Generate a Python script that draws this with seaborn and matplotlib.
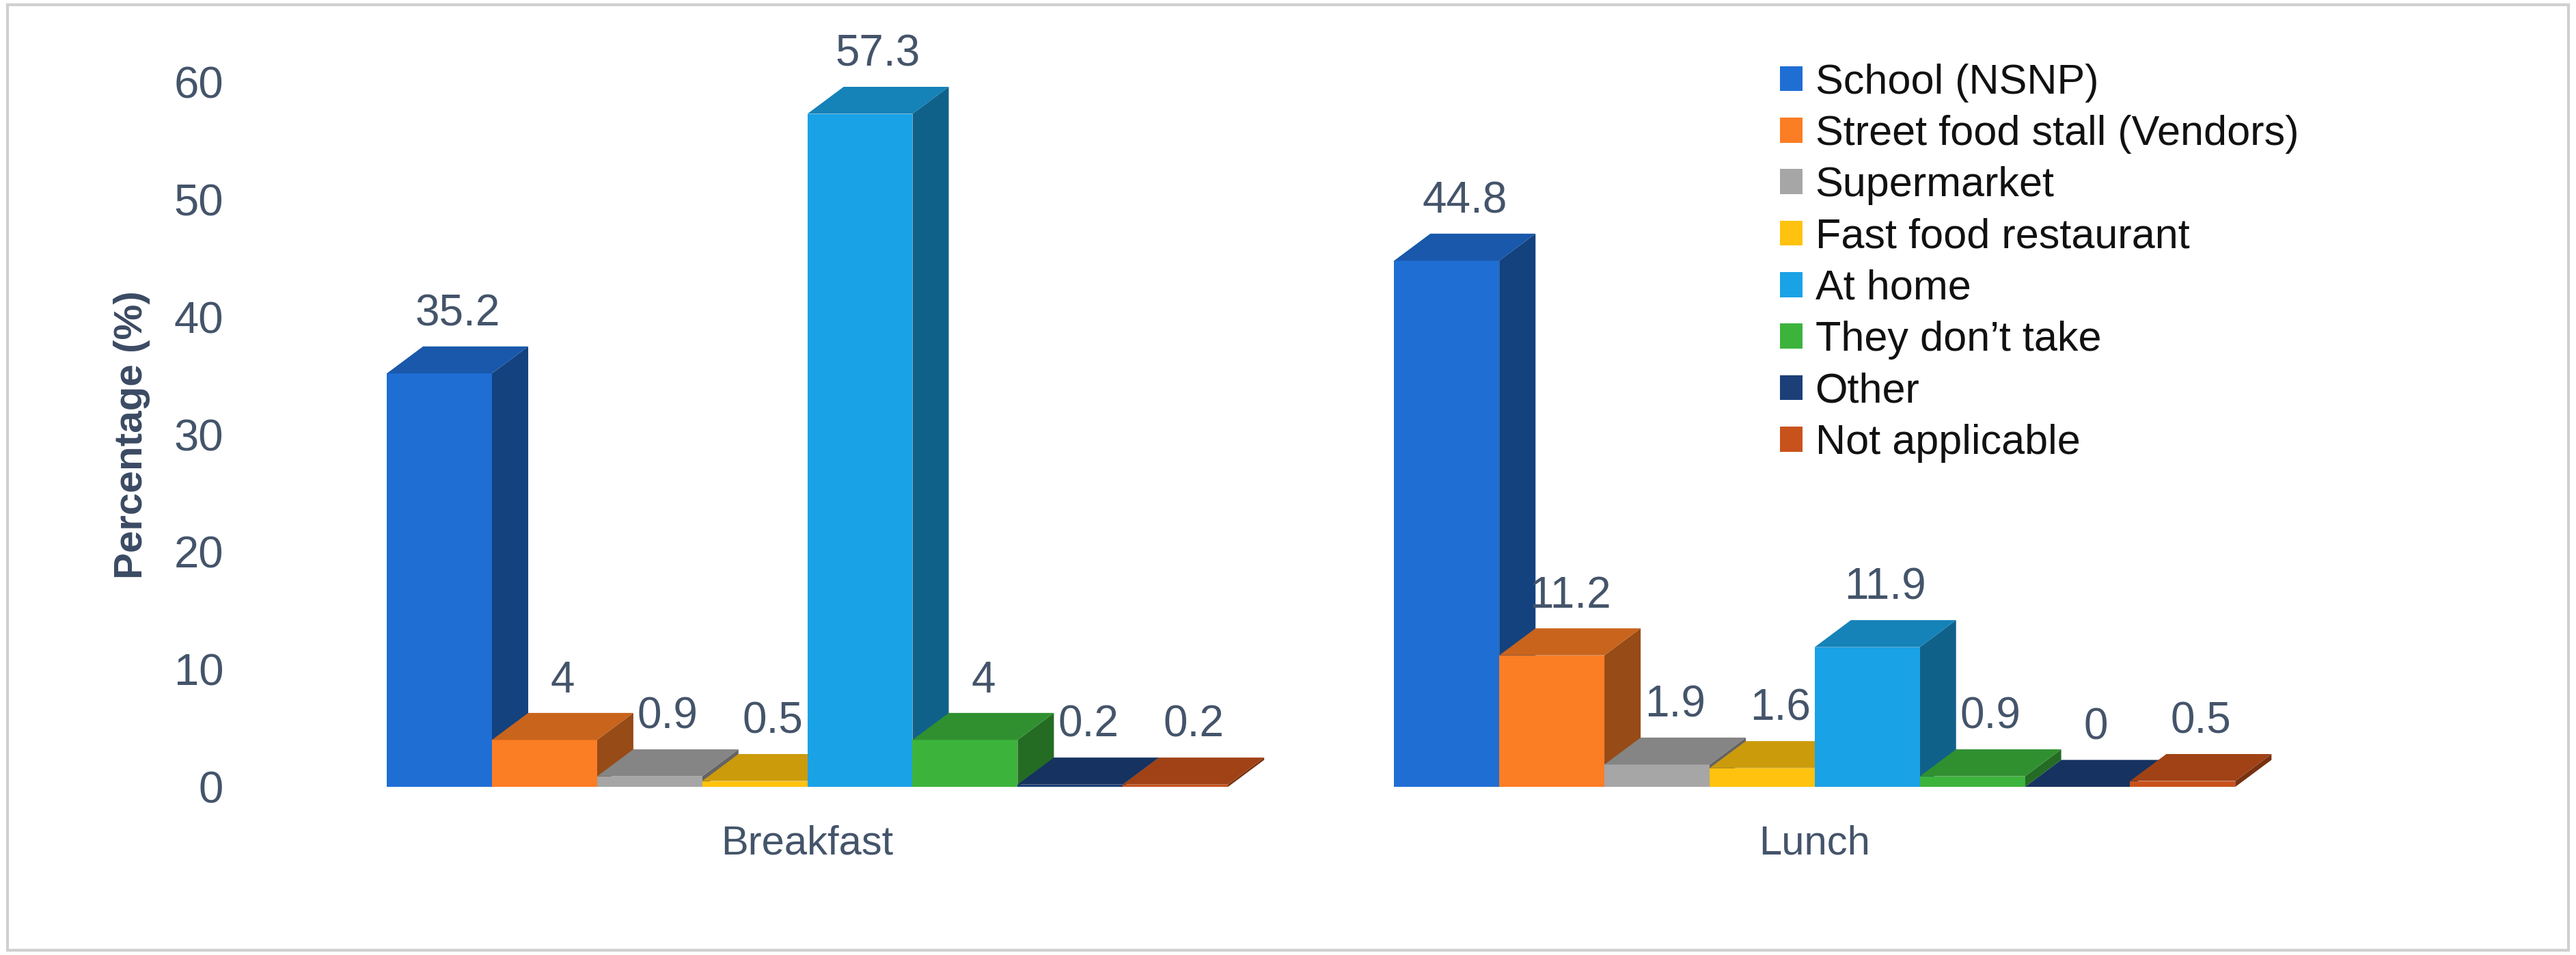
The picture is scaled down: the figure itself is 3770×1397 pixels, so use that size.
import matplotlib
matplotlib.use("Agg")
import matplotlib.pyplot as plt
import seaborn as sns
import pandas as pd
import matplotlib.colors as mcolors
from matplotlib.patches import Polygon, Rectangle

meals = ["Breakfast", "Lunch"]
places = ["School (NSNP)", "Street food stall (Vendors)", "Supermarket", "Fast food restaurant",
          "At home", "They don\u2019t take", "Other", "Not applicable"]
breakfast = [35.2, 4, 0.9, 0.5, 57.3, 4, 0.2, 0.2]
lunch = [44.8, 11.2, 1.9, 1.6, 11.9, 0.9, 0, 0.5]
labels_b = ["35.2", "4", "0.9", "0.5", "57.3", "4", "0.2", "0.2"]
labels_l = ["44.8", "11.2", "1.9", "1.6", "11.9", "0.9", "0", "0.5"]
colors = ["#1f6ed4", "#fb7d24", "#a6a6a6", "#ffc20e", "#1aa2e6", "#3cb43c", "#1c3f78", "#c8521c"]

df = pd.DataFrame({
    "meal": [m for m in meals for _ in places],
    "place": places * 2,
    "value": breakfast + lunch,
})

sns.set_theme(style="white")
plt.rcParams['font.family'] = ['Liberation Sans', 'DejaVu Sans']
fig = plt.figure(figsize=(37.7, 13.97), dpi=100)
ax = fig.add_axes([0.096, 0.176, 0.829, 0.738])
sns.barplot(data=df, x="meal", y="value", hue="place", hue_order=places, order=meals,
            palette=colors, width=0.835, dodge=True, ax=ax, legend=True, zorder=3,
            saturation=1, linewidth=0)

ax.set_xlim(-0.556, 1.564)
ax.set_ylim(0, 60)
dx, dy = 0.036, 2.3

lab = labels_b + labels_l
bars = [p for p in ax.patches if isinstance(p, Rectangle) and p.get_width() > 0][:16]
bars = sorted(bars, key=lambda p: p.get_x())
for i, p in enumerate(bars):
    x0, w, h = p.get_x(), p.get_width(), p.get_height()
    c = mcolors.to_rgb(p.get_facecolor())
    dark = tuple(v * 0.6 for v in c)
    mid = tuple(v * 0.8 for v in c)
    z = 2 + i * 0.01
    ax.add_patch(Polygon([(x0 + w, 0), (x0 + w + dx, dy), (x0 + w + dx, h + dy), (x0 + w, h)],
                         closed=True, facecolor=dark, edgecolor="none", zorder=z))
    ax.add_patch(Polygon([(x0, h), (x0 + dx, h + dy), (x0 + w + dx, h + dy), (x0 + w, h)],
                         closed=True, facecolor=mid, edgecolor="none", zorder=z + 0.005))
    p.set_zorder(z + 0.001)
    ax.text(x0 + w / 2 + dx / 2, h + dy + 1.0, lab[i], ha="center", va="bottom",
            fontsize=46, color="#44546a", zorder=10)

for s in ax.spines.values():
    s.set_visible(False)
ax.set_xlabel("")
ax.set_ylabel("Percentage (%)", fontsize=42, fontweight="bold", color="#3b4a63", labelpad=25)
ax.set_yticks(range(0, 61, 10))
ax.tick_params(axis="y", labelsize=47, labelcolor="#44546a", length=0, pad=25)
ax.tick_params(axis="x", labelsize=43, labelcolor="#44546a", length=0, pad=40)

leg = ax.legend(loc="upper left", bbox_to_anchor=(0.7, 1.08), frameon=False, fontsize=44,
                handlelength=0.55, handleheight=0.55, handletextpad=0.3, labelspacing=0.3)
for t in leg.get_texts():
    t.set_color("#111111")

fig.add_artist(Rectangle((0.003, 0.005), 0.994, 0.99, transform=fig.transFigure,
                         fill=False, edgecolor="#d0d0d0", linewidth=3))
fig.savefig("out.png", dpi=100)
